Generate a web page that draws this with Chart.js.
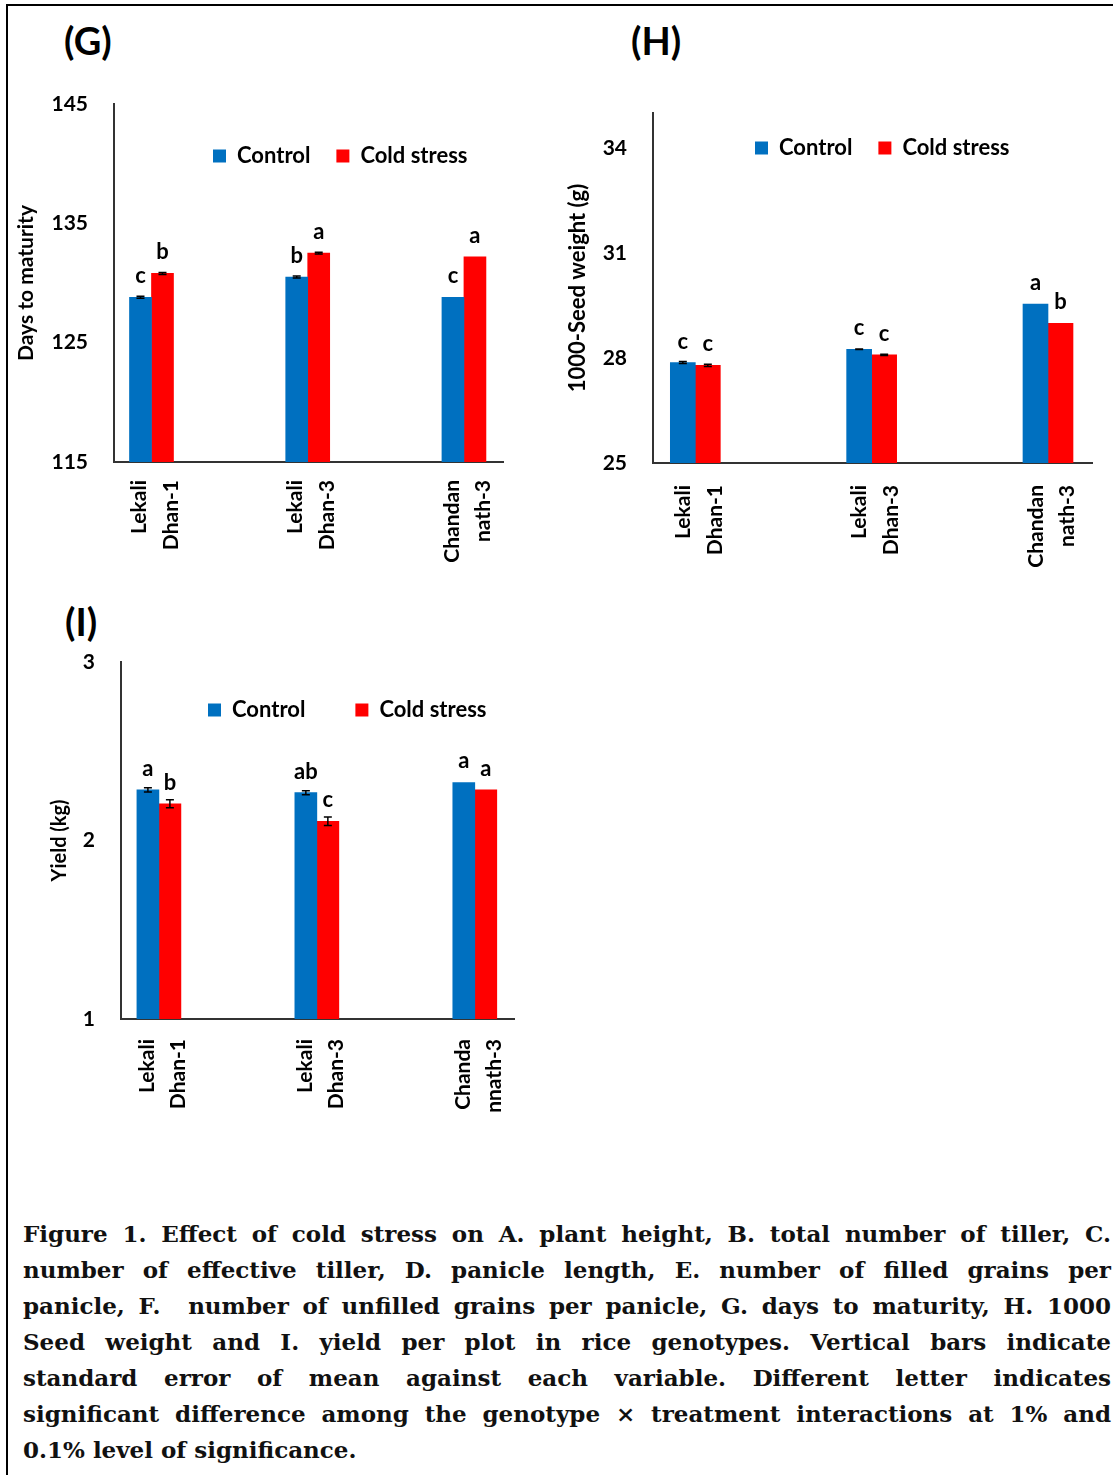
<!DOCTYPE html>
<html>
<head>
<meta charset="utf-8">
<script src="https://cdn.jsdelivr.net/npm/chart.js@4.4.1/dist/chart.umd.min.js"></script>
<style>
  body { margin: 0; background: #fff; }
  #page { position: relative; width: 1113px; height: 1475px; overflow: hidden; background: #fff; }
  .frame-top { position: absolute; left: 6px; top: 4px; width: 1107px; height: 2px; background: #000; }
  .frame-left { position: absolute; left: 6px; top: 4px; width: 2px; height: 1471px; background: #000; }
  .panel { position: absolute; font-family: Lato, sans-serif; font-weight: bold; font-size: 38px; color: #000; line-height: 1; }
  canvas { position: absolute; }
  #caption { position: absolute; left: 23px; top: 1216px; width: 1088px; font-family: "DejaVu Serif", serif; font-weight: bold; font-size: 23px; line-height: 36px; color: #111; }
  #caption div { text-align: justify; text-align-last: justify; }
  #caption div.last { text-align-last: left; }
</style>
</head>
<body>
<div id="page">
  <div class="frame-top"></div>
  <div class="frame-left"></div>

  <div class="panel" style="left:64px;top:21px;">(G)</div>
  <div class="panel" style="left:631px;top:21px;">(H)</div>
  <div class="panel" style="left:65px;top:602px;">(I)</div>

  <canvas id="chart-g" width="540" height="500" style="left:0px;top:90px;"></canvas>
  <canvas id="chart-h" width="553" height="480" style="left:560px;top:100px;"></canvas>
  <canvas id="chart-i" width="540" height="470" style="left:0px;top:649px;"></canvas>

  <div id="caption">
    <div>Figure 1. Effect of cold stress on A. plant height, B. total number of tiller, C.</div>
    <div>number of effective tiller, D. panicle length, E. number of filled grains per</div>
    <div>panicle, F.&nbsp; number of unfilled grains per panicle, G. days to maturity, H. 1000</div>
    <div>Seed weight and I. yield per plot in rice genotypes. Vertical bars indicate</div>
    <div>standard error of mean against each variable. Different letter indicates</div>
    <div>significant difference among the genotype × treatment interactions at 1% and</div>
    <div class="last">0.1% level of significance.</div>
  </div>
</div>

<script>
// ==================== data ====================
const positions = [0, 1, 2];
const genotypes = [["Lekali", "Dhan-1"], ["Lekali", "Dhan-3"], ["Chandan", "nath-3"]];
const genotypesI = [["Lekali", "Dhan-1"], ["Lekali", "Dhan-3"], ["Chanda", "nnath-3"]];
const seriesNames = ["Control", "Cold stress"];

// (G) days to maturity
const controlG = [128.8, 130.5, 128.8];
const coldG = [130.8, 132.5, 132.2];
const controlErrG = [0.08, 0.08, 0];
const coldErrG = [0.08, 0.08, 0];
const controlLettersG = ["c", "b", "c"];
const coldLettersG = ["b", "a", "a"];
const yTicksG = [115, 125, 135, 145];

// (H) 1000-seed weight
const controlH = [27.87, 28.25, 29.54];
const coldH = [27.79, 28.09, 28.99];
const controlErrH = [0.03, 0.01, 0];
const coldErrH = [0.03, 0.02, 0];
const controlLettersH = ["c", "c", "a"];
const coldLettersH = ["c", "c", "b"];
const yTicksH = [25, 28, 31, 34];

// (I) yield
const controlI = [2.284, 2.268, 2.325];
const coldI = [2.206, 2.108, 2.284];
const controlErrI = [0.012, 0.011, 0];
const coldErrI = [0.022, 0.024, 0];
const controlLettersI = ["a", "ab", "a"];
const coldLettersI = ["b", "c", "a"];
const yTicksI = [1, 2, 3];

const BLUE = "#0070C0";
const RED = "#FF0000";

Chart.defaults.font.family = "Lato, sans-serif";
Chart.defaults.color = "#000";

// error bars + significance letters
const barMarks = {
  id: "barMarks",
  afterDatasetsDraw(chart) {
    const ctx = chart.ctx;
    const yScale = chart.scales.y;
    chart.data.datasets.forEach((ds, i) => {
      const meta = chart.getDatasetMeta(i);
      meta.data.forEach((bar, j) => {
        const v = ds.data[j].y;
        const err = ds.errors[j];
        ctx.save();
        if (err > 0) {
          const top = yScale.getPixelForValue(v + err);
          const bottom = yScale.getPixelForValue(v - err);
          ctx.strokeStyle = "#000";
          ctx.lineWidth = 1.5;
          ctx.beginPath();
          ctx.moveTo(bar.x, top);
          ctx.lineTo(bar.x, bottom);
          ctx.moveTo(bar.x - 4, top);
          ctx.lineTo(bar.x + 4, top);
          ctx.moveTo(bar.x - 4, bottom);
          ctx.lineTo(bar.x + 4, bottom);
          ctx.stroke();
        }
        ctx.fillStyle = "#000";
        ctx.font = "bold 22px Lato, sans-serif";
        ctx.textAlign = "center";
        ctx.textBaseline = "alphabetic";
        ctx.fillText(ds.letters[j], bar.x, bar.y - 14);
        ctx.restore();
      });
    });
  },
};

function makeChart(id, c) {
  const ctx = document.getElementById(id).getContext("2d");
  return new Chart(ctx, {
    type: "bar",
    data: {
      datasets: [
        {
          label: seriesNames[0],
          data: positions.map((p, k) => ({ x: p, y: c.control[k] })),
          errors: c.controlErr,
          letters: c.controlLetters,
          backgroundColor: BLUE,
          barThickness: c.barWidth,
        },
        {
          label: seriesNames[1],
          data: positions.map((p, k) => ({ x: p, y: c.cold[k] })),
          errors: c.coldErr,
          letters: c.coldLetters,
          backgroundColor: RED,
          barThickness: c.barWidth,
        },
      ],
    },
    options: {
      responsive: false,
      animation: false,
      layout: { padding: { left: 0, top: c.padTop - 1, right: c.padRight, bottom: 0 } },
      plugins: {
        tooltip: { enabled: false },
        legend: {
          position: "top",
          align: "start",
          maxHeight: 1, // legend sits inside the plot, it takes no room
          labels: {
            boxWidth: 13,
            boxHeight: 13,
            padding: c.legendGap,
            color: "#000",
            font: { size: 22, weight: "bold" },
          },
        },
      },
      scales: {
        x: {
          type: "linear",
          min: -0.24,
          max: 2.25,
          offset: false,
          grid: { display: false, drawTicks: true, tickLength: c.xPad },
          border: { display: true, color: "#333", width: 2 },
          ticks: {
            minRotation: 90,
            maxRotation: 90,
            autoSkip: false,
            padding: 0,
            labelOffset: -12,
            color: "#000",
            font: { size: 21, weight: "bold", lineHeight: 1.5 },
            callback: (v) => c.labels[v],
          },
          afterBuildTicks: (s) => {
            s.ticks = positions.map((v) => ({ value: v }));
          },
          afterFit: (s) => {
            s.height = c.xHeight;
          },
        },
        y: {
          min: c.yTicks[0],
          max: c.yMax,
          grid: { display: false, drawTicks: true, tickLength: 26 },
          border: { display: true, color: "#333", width: 2 },
          ticks: { padding: 0, color: "#000", font: { size: 21, weight: "bold" } },
          afterBuildTicks: (s) => {
            s.ticks = c.yTicks.map((v) => ({ value: v }));
          },
          afterFit: (s) => {
            s.width = c.yWidth;
          },
          title: {
            display: true,
            text: c.yTitle,
            color: "#000",
            font: { size: c.titleSize, weight: "bold" },
            padding: { top: c.titlePad, bottom: 0 },
          },
        },
      },
    },
    plugins: [
      barMarks,
      {
        id: "legendSpot",
        beforeDraw(chart) {
          // move the legend box into the plot area
          const lg = chart.legend;
          const pad = lg.options.labels.padding;
          lg.left = c.legendX - pad;
          lg.top = c.legendY - pad - 11;
          lg.bottom = lg.top + 2 * pad + 30;
          lg.right = chart.width;
        },
      },
    ],
  });
}

makeChart("chart-g", {
  control: controlG, cold: coldG, controlErr: controlErrG, coldErr: coldErrG,
  controlLetters: controlLettersG, coldLetters: coldLettersG,
  labels: genotypes, yTicks: yTicksG, yMax: 145,
  yTitle: "Days to maturity", titleSize: 21, titlePad: 14,
  barWidth: 22, padTop: 14, padRight: 37, yWidth: 114, xHeight: 128, xPad: 18,
  legendX: 213, legendY: 66, legendGap: 26,
});

makeChart("chart-h", {
  control: controlH, cold: coldH, controlErr: controlErrH, coldErr: coldErrH,
  controlLetters: controlLettersH, coldLetters: coldLettersH,
  labels: genotypes, yTicks: yTicksH, yMax: 35,
  yTitle: "1000-Seed weight (g)", titleSize: 22, titlePad: 5,
  barWidth: 25, padTop: 13, padRight: 20, yWidth: 93, xHeight: 117, xPad: 22,
  legendX: 195, legendY: 48, legendGap: 26,
});

makeChart("chart-i", {
  control: controlI, cold: coldI, controlErr: controlErrI, coldErr: coldErrI,
  controlLetters: controlLettersI, coldLetters: coldLettersI,
  labels: genotypesI, yTicks: yTicksI, yMax: 3,
  yTitle: "Yield (kg)", titleSize: 20, titlePad: 48,
  barWidth: 22, padTop: 13, padRight: 22, yWidth: 121, xHeight: 100, xPad: 20,
  legendX: 208, legendY: 61, legendGap: 50,
});
</script>
</body>
</html>
